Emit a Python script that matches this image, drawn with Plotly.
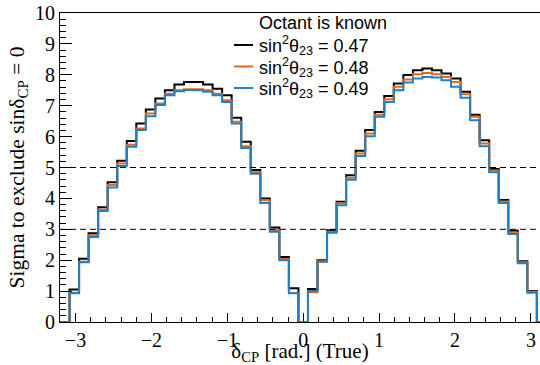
import numpy as np
import plotly.graph_objects as go

# ---- data -------------------------------------------------------------
# true delta_CP bin centres (51 bins of width 2*pi/50, centred from -pi to pi)
n_bins = 51
delta_cp = np.linspace(-np.pi, np.pi, n_bins)
bin_width = 2 * np.pi / (n_bins - 1)

sigma_047 = [0.00, 1.05, 2.05, 2.87, 3.71, 4.52, 5.22, 5.86, 6.42, 6.88,
             7.23, 7.50, 7.69, 7.77, 7.77, 7.69, 7.55, 7.34, 6.61, 5.83,
             4.92, 4.00, 3.06, 2.10, 1.09, 0.00, 1.07, 2.00, 2.97, 3.89,
             4.75, 5.54, 6.21, 6.80, 7.31, 7.72, 7.99, 8.15, 8.20, 8.15,
             8.04, 7.88, 7.45, 6.71, 5.88, 4.95, 3.95, 2.95, 1.97, 1.00, 0.00]
sigma_048 = [0.00, 0.95, 1.95, 2.81, 3.64, 4.43, 5.13, 5.74, 6.26, 6.75,
             7.07, 7.39, 7.50, 7.53, 7.53, 7.50, 7.39, 7.18, 6.48, 5.69,
             4.85, 3.94, 2.97, 2.04, 0.94, 0.00, 0.96, 1.97, 2.92, 3.84,
             4.67, 5.45, 6.10, 6.71, 7.21, 7.61, 7.85, 8.02, 8.06, 8.02,
             7.93, 7.77, 7.37, 6.64, 5.78, 4.90, 3.90, 2.90, 1.93, 0.98, 0.00]
sigma_049 = [0.00, 0.93, 1.93, 2.75, 3.59, 4.35, 5.05, 5.67, 6.21, 6.66,
             7.02, 7.34, 7.47, 7.51, 7.50, 7.45, 7.34, 7.12, 6.42, 5.63,
             4.80, 3.85, 2.92, 2.00, 0.93, 0.00, 1.00, 1.95, 2.89, 3.78,
             4.60, 5.37, 6.01, 6.64, 7.12, 7.50, 7.75, 7.88, 7.93, 7.91,
             7.82, 7.61, 7.26, 6.53, 5.69, 4.85, 3.85, 2.85, 1.90, 0.95, 0.00]

series_names = ["sin<sup>2</sup>θ<sub>23</sub> = 0.47",
                "sin<sup>2</sup>θ<sub>23</sub> = 0.48",
                "sin<sup>2</sup>θ<sub>23</sub> = 0.49"]
series_values = [sigma_047, sigma_048, sigma_049]
series_colors = ["#000000", "#e3691b", "#1f80c2"]
legend_title = "Octant is known"
reference_levels = [3, 5]

x_title = "δ<sub>CP</sub> [rad.] (True)"
y_title = "Sigma to exclude sinδ<sub>CP</sub> = 0"

# ---- figure ------------------------------------------------------------
edges = np.append(delta_cp - bin_width / 2, delta_cp[-1] + bin_width / 2)

fig = go.Figure()
for name, vals, col in zip(series_names, series_values, series_colors):
    y = list(vals) + [vals[-1]]
    fig.add_trace(go.Scatter(x=edges, y=y, mode="lines", line_shape="hv",
                             line=dict(color=col, width=2), name=name,
                             showlegend=False))

for lvl in reference_levels:
    fig.add_shape(type="line", xref="paper", yref="y", x0=0, x1=1,
                  y0=lvl, y1=lvl,
                  line=dict(color="black", width=1, dash="6px,4px"))

# manual legend (ROOT style)
L, R, T, B = 60, 540, 13, 322
W, H = R - L, B - T


def px(xp):
    return (xp - L) / W


def py(yp):
    return (B - yp) / H


legend_font = dict(family="Liberation Sans, Arial", size=18, color="black")
fig.add_annotation(text=legend_title, xref="paper", yref="paper",
                   x=px(257), y=py(23), xanchor="left", yanchor="middle",
                   showarrow=False, font=legend_font)
row_y = [44, 65.5, 87]
for name, col, ry in zip(series_names, series_colors, row_y):
    fig.add_annotation(text=name, xref="paper", yref="paper",
                       x=px(257), y=py(ry + 2), xanchor="left",
                       yanchor="middle", showarrow=False, font=legend_font)
    fig.add_shape(type="line", xref="paper", yref="paper",
                  x0=px(234), x1=px(253), y0=py(ry + 1), y1=py(ry + 1),
                  line=dict(color=col, width=2))

xl = -np.pi - bin_width / 2
scale = (303.2 - L) / (-xl)
xr = (R - 303.2) / scale

serif = "Liberation Serif, Times New Roman"
fig.update_layout(
    width=540, height=365,
    margin=dict(l=L, r=540 - R, t=T, b=365 - B),
    paper_bgcolor="white", plot_bgcolor="white",
    showlegend=False,
    font=dict(family=serif, size=20, color="black"),
    xaxis=dict(range=[xl, xr], showgrid=False, zeroline=False,
               showline=True, linecolor="black", linewidth=1, mirror=True,
               ticks="inside", ticklen=9, tickcolor="black", tickwidth=1,
               dtick=1, tick0=0, layer="below traces",
               minor=dict(ticks="inside", ticklen=5, dtick=0.2, tick0=0,
                          tickcolor="black", showgrid=False),
               tickfont=dict(family=serif, size=20),
               title=dict(text=x_title, font=dict(family=serif, size=21),
                          standoff=0)),
    yaxis=dict(range=[0, 10], showgrid=False, zeroline=False,
               showline=True, linecolor="black", linewidth=1, mirror=False,
               ticks="inside", ticklen=12, tickcolor="black", tickwidth=1,
               dtick=1, tick0=0, layer="below traces",
               minor=dict(ticks="inside", ticklen=6, dtick=0.2, tick0=0,
                          tickcolor="black", showgrid=False),
               tickfont=dict(family=serif, size=20),
               title=dict(text=y_title, font=dict(family=serif, size=21.5),
                          standoff=4)),
)

fig.write_html("out.html")
